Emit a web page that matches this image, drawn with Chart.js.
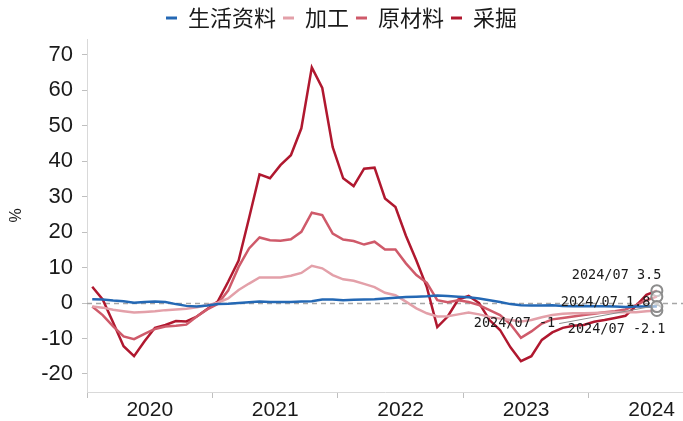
<!DOCTYPE html>
<html>
<head>
<meta charset="utf-8">
<script src="https://cdn.jsdelivr.net/npm/chart.js@4"></script>
<style>
  html, body { margin: 0; padding: 0; background: #fff; }
  #wrap { width: 683px; height: 421px; }
</style>
</head>
<body>
<div id="wrap"><canvas id="c"></canvas></div>
<script>
// x axis: one slot per month, 2020-01 .. 2024-09 (data ends 2024-07)
const years = ['2020', '2021', '2022', '2023', '2024']
const monthSlots = 57
const lastDate = '2024/07'
const yTicks = [-20, -10, 0, 10, 20, 30, 40, 50, 60, 70]

// monthly yoy %, 2020-01 .. 2024-07
const consumer = [
  1.1, 1.0, 0.7, 0.5, 0.1, 0.3, 0.4, 0.3, -0.3, -0.8, -1.0, -0.7,
  -0.3, -0.2, 0.0, 0.2, 0.4, 0.3, 0.3, 0.3, 0.4, 0.5, 1.0, 1.0,
  0.8, 0.9, 1.0, 1.1, 1.3, 1.5, 1.7, 1.8, 1.9, 2.1, 2.0, 1.8,
  1.6, 1.3, 0.8, 0.3, -0.3, -0.6, -0.7, -0.7, -0.6, -0.8, -0.9, -0.8,
  -0.9, -0.9, -1.0, -1.1, -1.0, -1.0, -1
]
const processing = [
  -1.0, -1.3, -1.9, -2.3, -2.7, -2.5, -2.3, -2.0, -1.8, -1.6, -1.2, -0.6,
  0.1, 1.3, 3.7, 5.5, 7.2, 7.2, 7.2, 7.7, 8.5, 10.5, 9.8, 7.9,
  6.7, 6.3, 5.4, 4.5, 2.9, 2.2, 0.4, -1.5, -2.9, -3.8, -3.7, -3.2,
  -2.7, -3.2, -3.9, -4.4, -4.8, -5.2, -4.8, -4.0, -3.4, -3.0, -2.9, -2.9,
  -2.8, -2.7, -2.6, -2.5, -2.6, -2.3, -2.1
]
const rawMaterial = [
  -1.0, -3.4, -6.6, -9.4, -10.2, -8.7, -7.3, -6.6, -6.4, -6.1, -3.8, -1.8,
  -0.3, 3.5, 10.2, 15.4, 18.5, 17.7, 17.6, 18.0, 20.1, 25.5, 24.8, 19.6,
  17.9, 17.5, 16.5, 17.3, 15.1, 15.1, 11.2, 7.9, 5.7, 0.8, 0.2, 0.8,
  0.3, -0.6, -2.0, -3.4, -6.0, -9.8, -8.0, -5.8, -4.6, -4.2, -3.8, -3.4,
  -3.0, -2.6, -2.3, -1.8, -0.6, 0.8, 1.8
]
const mining = [
  4.6, 1.0, -5.5, -12.2, -15.0, -10.8, -7.0, -6.2, -5.1, -5.2, -3.8, -1.7,
  0.4, 6.0, 12.0, 24.0, 36.3, 35.2, 38.9, 41.7, 49.3, 66.5, 60.7, 44.0,
  35.2, 33.0, 37.9, 38.2, 29.5, 27.1, 19.0, 12.0, 4.5, -6.8, -3.8, 1.0,
  2.0, 0.0, -4.8, -7.6, -12.5, -16.4, -15.0, -10.4, -8.3, -7.0, -6.4, -6.2,
  -5.3, -4.8, -4.2, -3.6, -0.8, 2.3, 3.5
]

const seriesNames = ['生活资料', '加工', '原材料', '采掘']
const seriesValues = [consumer, processing, rawMaterial, mining]
const seriesColors = ['#2468b4', '#e3a0a9', '#cf5a6a', '#b0182f']
// where each end label sits relative to its last point (dx, dy)
const labelOffsets = [[-183, 17], [-89, 19], [-96, 6], [-85, -15]]

Chart.defaults.font.family = '"Liberation Sans", Arial, sans-serif'
Chart.defaults.color = '#1a1a1a'

const zeroLine = {
  id: 'zeroLine',
  beforeDatasetsDraw(chart) {
    const { ctx, chartArea, scales: { y } } = chart
    const py = Math.round(y.getPixelForValue(0)) + 0.5
    ctx.save()
    ctx.strokeStyle = '#a6a6a6'
    ctx.lineWidth = 1.5
    ctx.setLineDash([5, 4])
    ctx.beginPath()
    ctx.moveTo(chartArea.left, py)
    ctx.lineTo(chartArea.right, py)
    ctx.stroke()
    ctx.restore()
  }
}

const endLabels = {
  id: 'endLabels',
  afterDatasetsDraw(chart) {
    const { ctx } = chart
    ctx.save()
    ctx.font = '13.5px "DejaVu Sans Mono", monospace'
    ctx.fillStyle = '#1a1a1a'
    ctx.textBaseline = 'middle'
    chart.data.datasets.forEach((ds, i) => {
      const meta = chart.getDatasetMeta(i)
      const pt = meta.data[meta.data.length - 1]
      const vals = seriesValues[i]
      const text = lastDate + ' ' + vals[vals.length - 1]
      const tx = pt.x + labelOffsets[i][0]
      const ty = pt.y + labelOffsets[i][1]
      ctx.fillText(text, tx, ty)
      if (i === 0) {
        const w = ctx.measureText(text).width
        ctx.strokeStyle = '#8c8c8c'
        ctx.lineWidth = 1
        ctx.beginPath()
        ctx.moveTo(tx + w + 4, ty)
        ctx.lineTo(pt.x - 6, pt.y)
        ctx.stroke()
      }
    })
    ctx.restore()
  }
}

const canvas = document.getElementById('c')
new Chart(canvas, {
  type: 'line',
  data: {
    datasets: seriesNames.map((name, i) => ({
      label: name,
      data: seriesValues[i].map((v, k) => ({ x: k + 0.5, y: v })),
      borderColor: seriesColors[i],
      backgroundColor: seriesColors[i],
      borderWidth: 2.5,
      tension: 0,
      pointRadius: ctx => ctx.dataIndex === seriesValues[i].length - 1 ? 5.5 : 0,
      pointHoverRadius: 0,
      pointBorderColor: '#8c8c8c',
      pointBackgroundColor: 'rgba(255,255,255,0.55)',
      pointBorderWidth: 2
    }))
  },
  options: {
    responsive: true,
    maintainAspectRatio: false,
    animation: false,
    layout: { padding: 0, autoPadding: false },
    plugins: {
      legend: {
        position: 'top',
        labels: {
          boxWidth: 11,
          boxHeight: 3,
          padding: 7,
          color: '#1a1a1a',
          font: { family: '"Noto Sans CJK SC", sans-serif', size: 22 },
          generateLabels: chart => Chart.defaults.plugins.legend.labels.generateLabels(chart)
            .map(l => ({ ...l, lineWidth: 0, pointStyle: undefined }))
        }
      },
      tooltip: { enabled: false }
    },
    scales: {
      x: {
        type: 'linear',
        min: 0,
        max: monthSlots,
        afterBuildTicks: scale => {
          scale.ticks = years.flatMap((y, k) => [{ value: k * 12 }, { value: k * 12 + 6 }])
        },
        afterFit: scale => { scale.height = 29 },
        grid: {
          drawOnChartArea: false,
          tickLength: 6,
          color: ctx => (ctx.tick && ctx.tick.value % 12 === 0) ? '#bfbfbf' : 'rgba(0,0,0,0)'
        },
        border: { color: '#d9d9d9' },
        ticks: {
          autoSkip: false,
          maxRotation: 0,
          padding: 0,
          font: { size: 21 },
          callback: v => v % 12 === 6 ? years[(v - 6) / 12] : ''
        }
      },
      y: {
        min: -25.1,
        max: 74.5,
        afterBuildTicks: scale => {
          scale.ticks = yTicks.map(v => ({ value: v }))
        },
        afterFit: scale => { scale.width = 87 },
        grid: { drawOnChartArea: false, tickLength: 5, color: '#bfbfbf' },
        border: { color: '#d9d9d9' },
        ticks: { padding: 9, font: { size: 22 } },
        title: { display: true, text: '%', font: { size: 16 }, padding: { top: 7, bottom: 0 } }
      }
    }
  },
  plugins: [zeroLine, endLabels]
})
</script>
</body>
</html>
